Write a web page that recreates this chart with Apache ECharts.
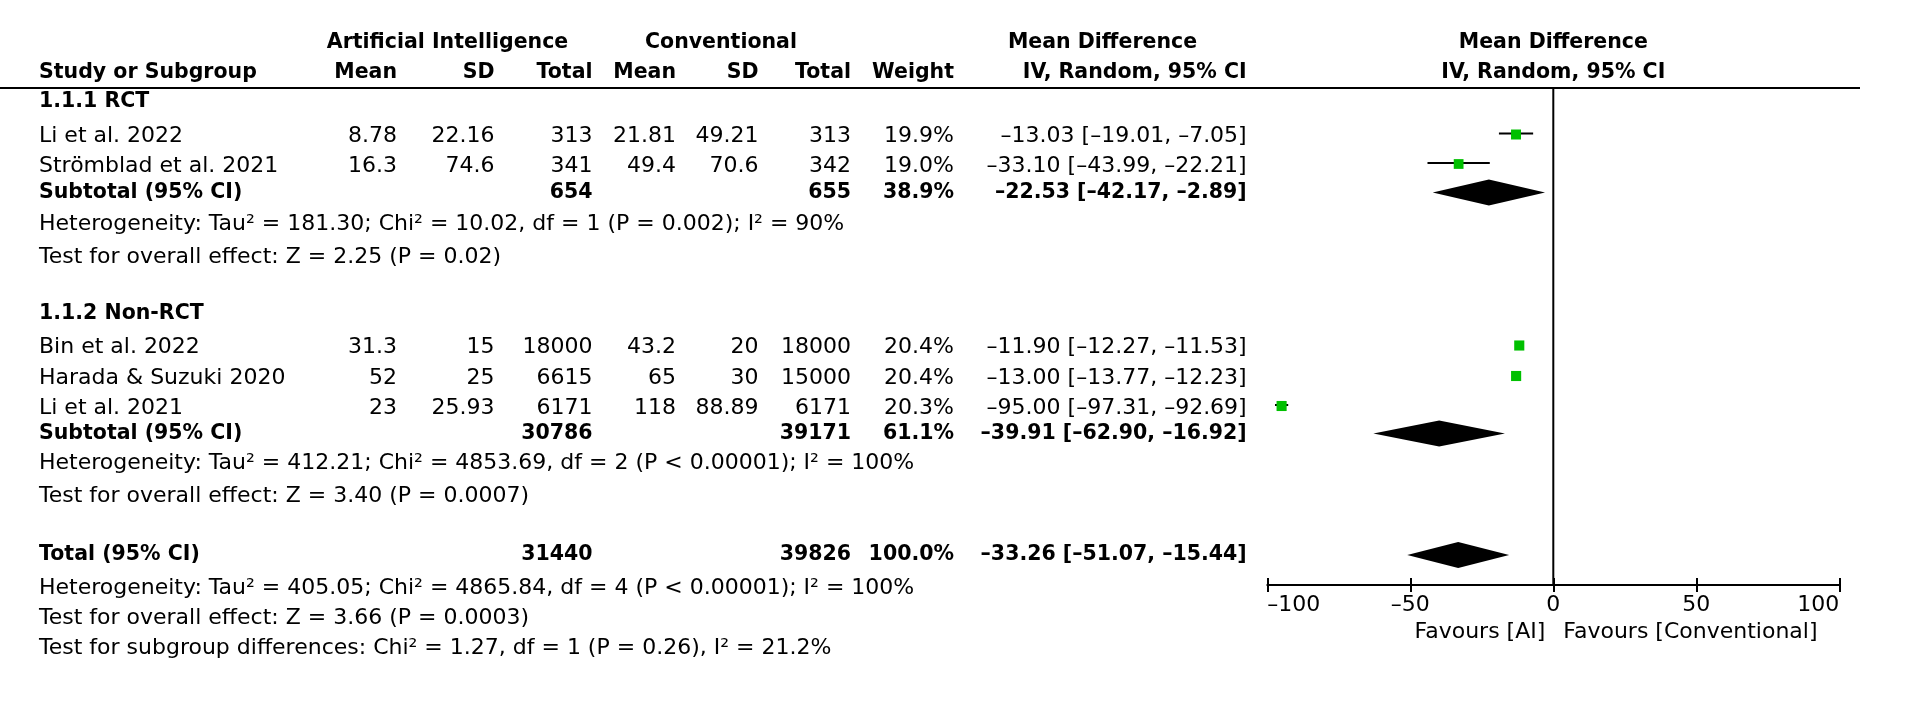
<!DOCTYPE html>
<html>
<head>
<meta charset="utf-8">
<title>Forest plot - AI vs Conventional</title>
<script src="https://cdn.jsdelivr.net/npm/echarts@6/dist/echarts.min.js"></script>
<style>
	html, body { margin: 0; padding: 0; background: #fff; }
	#main { width: 1906px; height: 704px; }
</style>
</head>
<body>
<div id="main"></div>
<script>
	// study level data
	var studies = ['Li et al. 2022', 'Strömblad et al. 2021', 'Bin et al. 2022', 'Harada & Suzuki 2020', 'Li et al. 2021'];
	var aiMean = [8.78, 16.3, 31.3, 52, 23];
	var aiSD = [22.16, 74.6, 15, 25, 25.93];
	var aiN = [313, 341, 18000, 6615, 6171];
	var convMean = [21.81, 49.4, 43.2, 65, 118];
	var convSD = [49.21, 70.6, 20, 30, 88.89];
	var convN = [313, 342, 18000, 15000, 6171];
	var weight = [19.9, 19.0, 20.4, 20.4, 20.3];
	var md = [-13.03, -33.10, -11.90, -13.00, -95.00];
	var ciLow = [-19.01, -43.99, -12.27, -13.77, -97.31];
	var ciHigh = [-7.05, -22.21, -11.53, -12.23, -92.69];

	// subtotals and total
	var groups = ['1.1.1 RCT', '1.1.2 Non-RCT'];
	var subLabels = ['Subtotal (95% CI)', 'Subtotal (95% CI)', 'Total (95% CI)'];
	var subAiN = [654, 30786, 31440];
	var subConvN = [655, 39171, 39826];
	var subWeight = [38.9, 61.1, 100.0];
	var subMd = [-22.53, -39.91, -33.26];
	var subLow = [-42.17, -62.90, -51.07];
	var subHigh = [-2.89, -16.92, -15.44];

	var notes = [
		'Heterogeneity: Tau² = 181.30; Chi² = 10.02, df = 1 (P = 0.002); I² = 90%',
		'Test for overall effect: Z = 2.25 (P = 0.02)',
		'Heterogeneity: Tau² = 412.21; Chi² = 4853.69, df = 2 (P < 0.00001); I² = 100%',
		'Test for overall effect: Z = 3.40 (P = 0.0007)',
		'Heterogeneity: Tau² = 405.05; Chi² = 4865.84, df = 4 (P < 0.00001); I² = 100%',
		'Test for overall effect: Z = 3.66 (P = 0.0003)',
		'Test for subgroup differences: Chi² = 1.27, df = 1 (P = 0.26), I² = 21.2%'
	];

	var xTicks = [-100, -50, 0, 50, 100];
	var favours = ['Favours [AI]', 'Favours [Conventional]'];

	// ---- layout (pixels) ----
	var FONT = 'DejaVu Sans';
	var headY = [43, 73];
	var lineY = 88, axisY = 585;
	var groupY = [102, 313.5];
	var studyY = [136.5, 166, 347.5, 378, 408];
	var subY = [192.5, 433.5, 555];
	var noteY = [224, 257, 463.5, 496, 588.5, 618.5, 648.5];
	var favY = 632;
	var col = {name: 39, aiMean: 397, aiSD: 494.5, aiN: 592.5, cMean: 676, cSD: 758.5, cN: 851, w: 954, ci: 1246.7};

	function dash(s) { return String(s).replace(/-/g, '–'); }
	function ci(m, l, h) { return dash(m.toFixed(2) + ' [' + l.toFixed(2) + ', ' + h.toFixed(2) + ']'); }

	function cell(x, text, align, bold) {
		return {x: x, text: text, align: align, bold: !!bold};
	}

	// build table rows
	var rows = [];
	rows.push({y: headY[0], items: [
		cell(447.5, 'Artificial Intelligence', 'center', true),
		cell(721, 'Conventional', 'center', true),
		cell(1102.5, 'Mean Difference', 'center', true)
	]});
	rows.push({y: headY[1], items: [
		cell(col.name, 'Study or Subgroup', 'left', true),
		cell(col.aiMean, 'Mean', 'right', true),
		cell(col.aiSD, 'SD', 'right', true),
		cell(col.aiN, 'Total', 'right', true),
		cell(col.cMean, 'Mean', 'right', true),
		cell(col.cSD, 'SD', 'right', true),
		cell(col.cN, 'Total', 'right', true),
		cell(col.w, 'Weight', 'right', true),
		cell(col.ci, 'IV, Random, 95% CI', 'right', true)
	]});
	for (var g = 0; g < groups.length; g++) {
		rows.push({y: groupY[g], items: [cell(col.name, groups[g], 'left', true)]});
	}
	for (var i = 0; i < studies.length; i++) {
		rows.push({y: studyY[i], items: [
			cell(col.name, studies[i], 'left'),
			cell(col.aiMean, String(aiMean[i]), 'right'),
			cell(col.aiSD, String(aiSD[i]), 'right'),
			cell(col.aiN, String(aiN[i]), 'right'),
			cell(col.cMean, String(convMean[i]), 'right'),
			cell(col.cSD, String(convSD[i]), 'right'),
			cell(col.cN, String(convN[i]), 'right'),
			cell(col.w, weight[i].toFixed(1) + '%', 'right'),
			cell(col.ci, ci(md[i], ciLow[i], ciHigh[i]), 'right')
		]});
	}
	for (var k = 0; k < subLabels.length; k++) {
		rows.push({y: subY[k], items: [
			cell(col.name, subLabels[k], 'left', true),
			cell(col.aiN, String(subAiN[k]), 'right', true),
			cell(col.cN, String(subConvN[k]), 'right', true),
			cell(col.w, subWeight[k].toFixed(1) + '%', 'right', true),
			cell(col.ci, ci(subMd[k], subLow[k], subHigh[k]), 'right', true)
		]});
	}
	for (var n = 0; n < notes.length; n++) {
		rows.push({y: noteY[n], items: [cell(col.name, notes[n], 'left')]});
	}

	function textEl(x, y, text, align, bold) {
		return {
			type: 'text',
			style: {
				x: x, y: y, text: text,
				align: align, verticalAlign: 'middle',
				fill: '#000',
				fontFamily: FONT,
				fontSize: bold ? 20.5 : 22,
				fontWeight: bold ? 'bold' : 'normal'
			}
		};
	}

	function renderRow(params, api) {
		var row = rows[params.dataIndex];
		var children = [];
		row.items.forEach(function (c) {
			var p = api.coord([c.x, row.y]);
			children.push(textEl(p[0], p[1], c.text, c.align, c.bold));
		});
		if (params.dataIndex === 0) {
			var a = api.coord([0, lineY]), b = api.coord([1860, lineY]);
			children.push({type: 'line', shape: {x1: a[0], y1: a[1], x2: b[0], y2: b[1]}, style: {stroke: '#000', lineWidth: 2}});
		}
		return {type: 'group', children: children};
	}

	function renderStudy(params, api) {
		var i = params.dataIndex;
		var y = studyY[i] - 2;
		var a = api.coord([ciLow[i], y]);
		var b = api.coord([ciHigh[i], y]);
		var c = api.coord([md[i], y]);
		var s = Math.sqrt(weight[i]) * 2.24;
		return {type: 'group', children: [
			{type: 'line', shape: {x1: a[0], y1: a[1] - 1, x2: b[0], y2: b[1] - 1}, style: {stroke: '#000', lineWidth: 2}},
			{type: 'rect', shape: {x: c[0] - s / 2, y: c[1] - s / 2, width: s, height: s}, style: {fill: '#00c000'}}
		]};
	}

	function renderDiamond(params, api) {
		var k = params.dataIndex, y = subY[k];
		var l = api.coord([subLow[k], y]);
		var m = api.coord([subMd[k], y]);
		var r = api.coord([subHigh[k], y]);
		return {
			type: 'polygon',
			shape: {points: [[l[0], l[1]], [m[0], m[1] - 13], [r[0], r[1]], [m[0], m[1] + 13]]},
			style: {fill: '#000'}
		};
	}

	function renderFrame(params, api) {
		var t = api.coord([0, lineY]), b = api.coord([0, axisY]);
		var f = api.coord([0, favY]);
		return {type: 'group', children: [
			{type: 'line', shape: {x1: t[0], y1: t[1], x2: b[0], y2: b[1]}, style: {stroke: '#000', lineWidth: 2}},
			textEl(t[0], headY[0], 'Mean Difference', 'center', true),
			textEl(t[0], headY[1], 'IV, Random, 95% CI', 'center', true),
			textEl(f[0] - 8, f[1], favours[0], 'right'),
			textEl(f[0] + 10, f[1], favours[1], 'left')
		]};
	}

	var myChart = echarts.init(document.getElementById('main'), null, {renderer: 'canvas'});

	var axisBase = {
		gridIndex: 0, type: 'value', min: xTicks[0], max: xTicks[xTicks.length - 1], interval: 50,
		position: 'bottom', splitLine: {show: false}
	};

	var option = {
		backgroundColor: '#fff',
		animation: false,
		grid: [
			{left: 1267.3, top: lineY, width: 572, height: axisY - lineY},
			{left: 0, top: 0, width: 1860, height: 704}
		],
		xAxis: [
			Object.assign({}, axisBase, {
				axisLine: {show: true, lineStyle: {color: '#000', width: 2}},
				axisTick: {show: true, inside: false, length: 7, lineStyle: {color: '#000', width: 2}},
				axisLabel: {
					show: true, color: '#000', fontFamily: FONT, fontSize: 22, margin: 9,
					alignMinLabel: 'left', alignMaxLabel: 'right',
					formatter: function (v) { return dash(v); }
				}
			}),
			Object.assign({}, axisBase, {
				axisLine: {show: false},
				axisTick: {show: true, inside: true, length: 7, lineStyle: {color: '#000', width: 2}},
				axisLabel: {show: false}
			}),
			{gridIndex: 1, type: 'value', min: 0, max: 1860, show: false}
		],
		yAxis: [
			{gridIndex: 0, type: 'value', min: lineY, max: axisY, inverse: true, show: false},
			{gridIndex: 1, type: 'value', min: 0, max: 704, inverse: true, show: false}
		],
		series: [
			{
				type: 'custom', name: 'table', xAxisIndex: 2, yAxisIndex: 1, silent: true,
				renderItem: renderRow,
				data: rows.map(function (r, idx) { return [idx, r.y]; })
			},
			{
				type: 'custom', name: 'frame', xAxisIndex: 0, yAxisIndex: 0, silent: true,
				renderItem: renderFrame,
				data: [[0, lineY]]
			},
			{
				type: 'custom', name: 'studies', xAxisIndex: 0, yAxisIndex: 0, silent: true, z: 3,
				renderItem: renderStudy,
				data: studies.map(function (s, i) { return [md[i], studyY[i]]; })
			},
			{
				type: 'custom', name: 'pooled', xAxisIndex: 0, yAxisIndex: 0, silent: true, z: 3,
				renderItem: renderDiamond,
				data: subLabels.map(function (s, k) { return [subMd[k], subY[k]]; })
			}
		]
	};

	myChart.setOption(option);
</script>
</body>
</html>
